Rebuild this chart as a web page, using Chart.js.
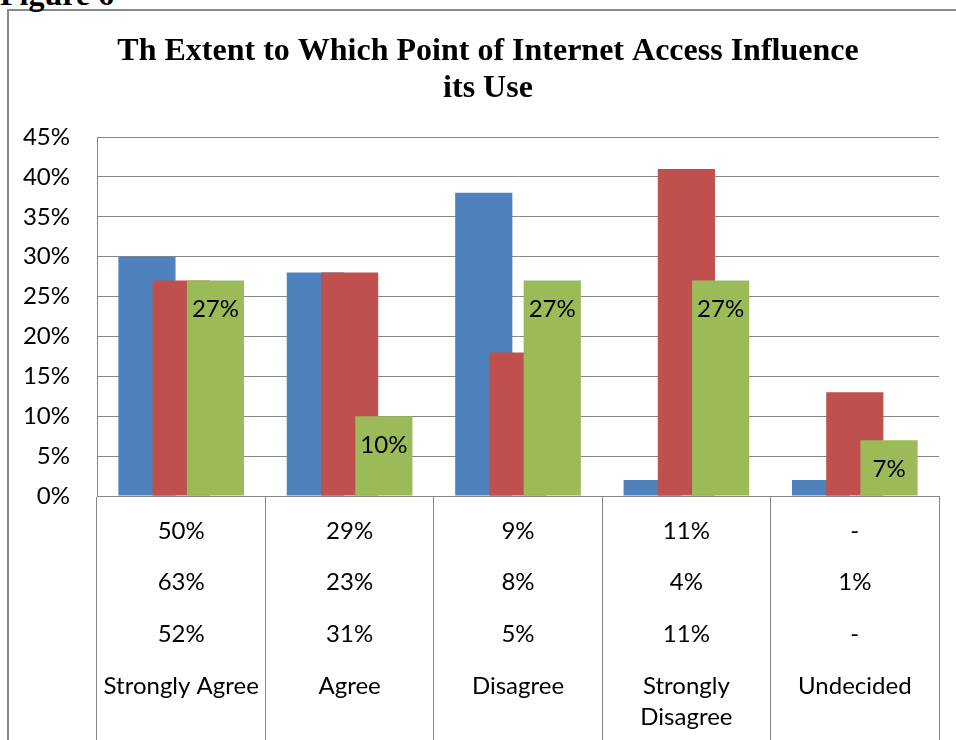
<!DOCTYPE html>
<html>
<head>
<meta charset="utf-8">
<script src="https://cdn.jsdelivr.net/npm/chart.js@4.4.1/dist/chart.umd.min.js"></script>
<style>
    html, body { margin: 0; padding: 0; background: #fff; overflow: hidden; }
    #frame { position: absolute; left: 7px; top: 9px; width: 1000px; height: 800px; border: 2px solid #888; }
    #fig { position: absolute; left: 0; top: -22px; font: bold 32px "Liberation Serif"; line-height: 32px; }
    #wrap { position: absolute; left: 0; top: 0; width: 956px; height: 740px; }
</style>
</head>
<body>
<div id="frame"></div>
<div id="fig">Figure 6</div>
<div id="wrap"><canvas id="myChart" width="956" height="740"></canvas></div>
<script>
// data (percent)
const categories = ['Strongly Agree', 'Agree', 'Disagree', ['Strongly', 'Disagree'], 'Undecided'];
const seriesBlue = [30, 28, 38, 2, 2];
const seriesRed = [27, 28, 18, 41, 13];
const seriesGreen = [27, 10, 27, 27, 7];

// rows of the data table under the axis
const tableRow1 = ['50%', '29%', '9%', '11%', '-'];
const tableRow2 = ['63%', '23%', '8%', '4%', '1%'];
const tableRow3 = ['52%', '31%', '5%', '11%', '-'];

const titleLines = ['Th Extent to Which Point of Internet Access Influence', 'its Use'];

const yMax = 45;
const yStep = 5;

const FONT = 'Lato';

// draw datasets first to last so the later bar sits on top of the overlap
const drawOrder = {
    id: 'drawOrder',
    beforeDatasetsDraw(chart) {
        const ctx = chart.ctx;
        const a = chart.chartArea;
        ctx.save();
        ctx.beginPath();
        ctx.rect(a.left, a.top - 2, a.right - a.left, a.bottom - a.top + 2);
        ctx.clip();
        chart.data.datasets.forEach((ds, i) => chart.getDatasetMeta(i).controller.draw());
        ctx.restore();
        return false;
    }
};

// title, green labels, table text + category names
const tableText = {
    id: 'tableText',
    afterDraw(chart) {
        const ctx = chart.ctx;
        const x = chart.scales.x;
        const bottom = chart.chartArea.bottom;
        ctx.save();

        // title (centred on the outer frame, not the plot)
        ctx.font = 'bold 32px "Liberation Serif"';
        ctx.fillStyle = '#000';
        ctx.textAlign = 'center';
        ctx.textBaseline = 'alphabetic';
        titleLines.forEach((t, i) => ctx.fillText(t, 488, 60 + i * 37));

        ctx.font = '24px ' + FONT;
        ctx.textBaseline = 'middle';

        chart.getDatasetMeta(2).data.forEach((bar, i) => {
            ctx.fillText(seriesGreen[i] + '%', bar.x, bar.y + 29);
        });

        const rows = [tableRow1, tableRow2, tableRow3];
        categories.forEach((c, i) => {
            const cx = x.getPixelForValue(i);
            rows.forEach((r, j) => ctx.fillText(r[i], cx, bottom + 35 + j * 51.5));
            const lines = Array.isArray(c) ? c : [c];
            lines.forEach((t, k) => ctx.fillText(t, cx, bottom + 190 + k * 31));
        });
        ctx.restore();
    }
};

const data = {
    labels: categories,
    datasets: [
        { label: 'Series 1', data: seriesBlue, backgroundColor: '#4F81BD' },
        { label: 'Series 2', data: seriesRed, backgroundColor: '#C0504D' },
        { label: 'Series 3', data: seriesGreen, backgroundColor: '#9BBB59' }
    ]
};

const config = {
    type: 'bar',
    data: data,
    options: {
        responsive: false,
        animation: false,
        categoryPercentage: 0.61,
        barPercentage: 1.67,
        borderWidth: 0,
        layout: { padding: { left: 0, right: 17, top: 137, bottom: 0 } },
        plugins: {
            legend: { display: false },
            tooltip: { enabled: false },
            title: { display: false }
        },
        scales: {
            x: {
                grid: { offset: true, drawOnChartArea: false, drawTicks: true, tickLength: 244, color: '#868686' },
                border: { color: '#868686' },
                ticks: { display: false }
            },
            y: {
                min: 0,
                max: yMax,
                afterFit(scale) { scale.width = 97; },
                grid: { color: '#868686', drawTicks: false },
                border: { color: '#868686' },
                ticks: {
                    stepSize: yStep,
                    padding: 27,
                    color: '#000',
                    font: { family: FONT, size: 24 },
                    callback: v => v + '%'
                }
            }
        }
    },
    plugins: [drawOrder, tableText]
};

const myChart = new Chart(document.getElementById('myChart'), config);
</script>
</body>
</html>
